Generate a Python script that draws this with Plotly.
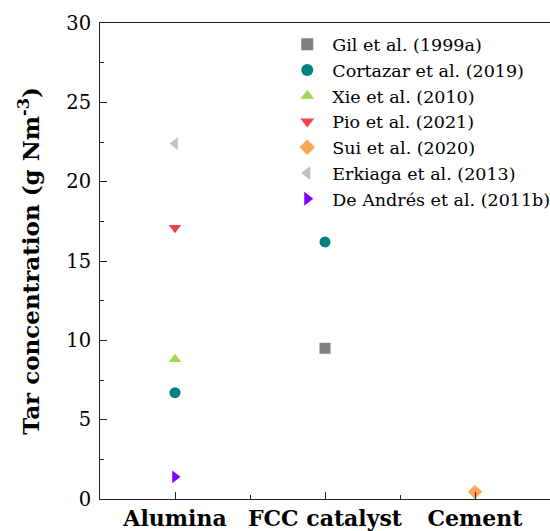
import plotly.graph_objects as go

categories = ["Alumina", "FCC catalyst", "Cement"]

series_names = ["Gil et al. (1999a)", "Cortazar et al. (2019)", "Xie et al. (2010)",
                "Pio et al. (2021)", "Sui et al. (2020)", "Erkiaga et al. (2013)",
                "De Andrés et al. (2011b)"]
series_cats = [["FCC catalyst"], ["Alumina", "FCC catalyst"], ["Alumina"], ["Alumina"],
               ["Cement"], ["Alumina"], ["Alumina"]]
series_vals = [[9.5], [6.7, 16.2], [8.8], [17.1], [0.45], [22.4], [1.4]]
series_colors = ["#808080", "#008080", "#A5D64F", "#F2404F", "#FFA65A", "#C0C0C0", "#8000FF"]
series_symbols = ["square", "circle", "triangle-up", "triangle-down", "diamond",
                  "triangle-left", "triangle-right"]

fig = go.Figure()
for name, cats, vals, col, sym in zip(series_names, series_cats, series_vals, series_colors, series_symbols):
    fig.add_trace(go.Scatter(
        x=[categories.index(c) for c in cats], y=vals, mode="markers", name=name,
        marker=dict(color=col, symbol=sym, size=11, line=dict(width=0)),
    ))

serif = "DejaVu Serif"
fig.update_layout(
    width=550, height=531,
    margin=dict(l=100, r=0, t=23, b=32, autoexpand=False),
    paper_bgcolor="white", plot_bgcolor="white",
    font=dict(family=serif, color="black"),
    showlegend=True,
    legend=dict(x=0.405, y=0.993, xanchor="left", yanchor="top",
                font=dict(size=17.5, family=serif), bgcolor="rgba(0,0,0,0)",
                tracegroupgap=0, itemsizing="constant", itemwidth=40),
    xaxis=dict(range=[-0.5, 2.5], tickmode="array", tickvals=list(range(len(categories))),
               ticktext=["<b>%s</b>" % c for c in categories], ticks="inside", ticklen=7, tickcolor="#222",
               showline=True, linecolor="#222", linewidth=1, mirror=True, showgrid=False,
               zeroline=False, tickfont=dict(size=22, family=serif),
               minor=dict(ticks="inside", dtick=0.5, tick0=0, ticklen=4, tickcolor="#222", showgrid=False)),
    yaxis=dict(range=[0, 30], dtick=5, ticks="inside", ticklen=7, tickcolor="#222",
               showline=True, linecolor="#222", linewidth=1, mirror=True, showgrid=False,
               zeroline=False, tickfont=dict(size=19.5, family=serif), ticklabelstandoff=4,
               title=dict(text="<b>Tar concentration (g Nm<sup>-3</sup>)</b>",
                          font=dict(size=23, family=serif), standoff=20),
               minor=dict(ticks="inside", dtick=2.5, ticklen=4, tickcolor="#222", showgrid=False)),
)
fig.write_html("out.html")
